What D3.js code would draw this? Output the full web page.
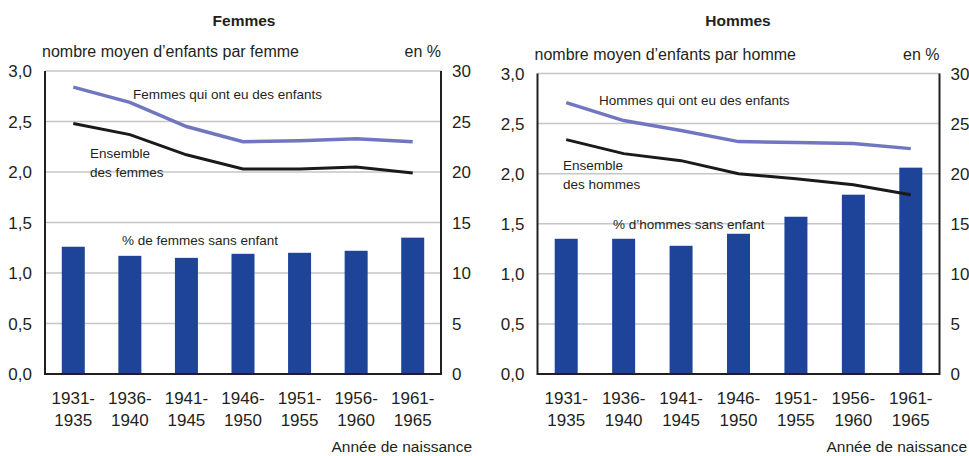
<!DOCTYPE html>
<html>
<head>
<meta charset="utf-8">
<script src="https://cdn.jsdelivr.net/npm/d3@7"></script>
<style>
body{margin:0;background:#fff;}
svg text{font-family:"Liberation Sans",Arial,sans-serif;fill:#231f20;}
</style>
</head>
<body>
<svg id="chart" width="969" height="456"></svg>
<script>
// categories (années de naissance)
var generations = ["1931-1935","1936-1940","1941-1945","1946-1950","1951-1955","1956-1960","1961-1965"];
// nombre moyen d'enfants
var femmesAvecEnfants = [2.84,2.69,2.45,2.30,2.31,2.33,2.30];
var femmesEnsemble    = [2.48,2.37,2.17,2.03,2.03,2.05,1.99];
var hommesAvecEnfants = [2.71,2.53,2.43,2.32,2.31,2.30,2.25];
var hommesEnsemble    = [2.34,2.20,2.13,2.00,1.95,1.89,1.79];
// % sans enfant
var femmesSansEnfant = [12.6,11.7,11.5,11.9,12.0,12.2,13.5];
var hommesSansEnfant = [13.5,13.5,12.8,14.0,15.7,17.9,20.6];
// graduations
var ticksGauche = [0,0.5,1,1.5,2,2.5,3];
var ticksDroite = [0,5,10,15,20,25,30];

var bleuBarre = "#1d4498",
	bleuLigne = "#7077c0",
	gris = "#c6c6c6";

var svg = d3.select("#chart");

function panneau(p){
	var g = svg.append("g");
	var x = d3.scaleBand().domain(generations).range([p.x0,p.x1]);
	var yG = d3.scaleLinear().domain([0,3]).range([p.yb,p.yt]);
	var yD = d3.scaleLinear().domain([0,30]).range([p.yb,p.yt]);
	var cx = function(d){ return x(d)+x.bandwidth()/2; };

	g.append("text").text(p.titre)
		.attr("x",p.xTitre).attr("y",26)
		.attr("text-anchor","middle")
		.attr("font-size",15.5).attr("font-weight","bold");
	g.append("text").text(p.sousTitre)
		.attr("x",p.x0-3).attr("y",p.yt-14).attr("font-size",16);
	g.append("text").text("en %")
		.attr("x",p.x1).attr("y",p.yt-14)
		.attr("text-anchor","end").attr("font-size",16);

	// quadrillage
	g.selectAll(".grille").data(ticksGauche.slice(1)).enter()
		.append("line")
		.attr("x1",p.x0).attr("x2",p.x1)
		.attr("y1",function(d){return yG(d);})
		.attr("y2",function(d){return yG(d);})
		.attr("stroke",gris).attr("stroke-width",1.5);

	g.selectAll(".tg").data(ticksGauche).enter()
		.append("text")
		.text(function(d){return d3.format(".1f")(d).replace(".",",");})
		.attr("x",p.x0-13).attr("y",function(d){return yG(d)+6;})
		.attr("text-anchor","end").attr("font-size",17);
	g.selectAll(".td").data(ticksDroite).enter()
		.append("text")
		.text(function(d){return d;})
		.attr("x",p.x1+11).attr("y",function(d){return yD(d)+6;})
		.attr("font-size",17);

	// barres
	g.selectAll(".barre").data(p.barres).enter()
		.append("rect")
		.attr("x",function(d,i){return cx(generations[i])-11.5;})
		.attr("width",23)
		.attr("y",function(d){return yD(d);})
		.attr("height",function(d){return p.yb-yD(d);})
		.attr("fill",bleuBarre);

	// étiquettes avec fond blanc
	p.etiquettes.forEach(function(e){
		var t = g.append("text").attr("font-size",13.5);
		e.lignes.forEach(function(l,k){
			t.append("tspan").attr("x",e.x).attr("y",e.y+k*18.5).text(l);
		});
		if(e.fond){
			var b = t.node().getBBox();
			g.insert("rect","text")
				.attr("x",b.x-10).attr("y",b.y-1)
				.attr("width",b.width+20).attr("height",b.height+2)
				.attr("fill","#fff");
		}
	});

	// axes
	g.append("path")
		.attr("d","M"+p.x0+","+p.yt+"V"+p.yb+"H"+p.x1+"V"+p.yt)
		.attr("fill","none").attr("stroke","#231f20").attr("stroke-width",2);

	var ligne = d3.line()
		.x(function(d,i){return cx(generations[i]);})
		.y(function(d){return yG(d);});
	g.append("path").datum(p.avec).attr("d",ligne)
		.attr("fill","none").attr("stroke",bleuLigne).attr("stroke-width",3.5);
	g.append("path").datum(p.ensemble).attr("d",ligne)
		.attr("fill","none").attr("stroke","#1a1a1a").attr("stroke-width",3);

	// années
	g.selectAll(".annee").data(generations).enter()
		.append("text")
		.attr("text-anchor","middle").attr("font-size",17)
		.each(function(d){
			var parts = d.split("-");
			d3.select(this).append("tspan").attr("x",cx(d)).attr("y",p.yb+30).text(parts[0]+"-");
			d3.select(this).append("tspan").attr("x",cx(d)).attr("y",p.yb+52).text(parts[1]);
		});
	g.append("text").text("Année de naissance")
		.attr("x",p.xAnnee).attr("y",p.yb+78)
		.attr("text-anchor","end").attr("font-size",15.5);
}

panneau({
	titre:"Femmes", xTitre:244,
	sousTitre:"nombre moyen d\u2019enfants par femme",
	x0:45, x1:441, yt:71, yb:374, xAnnee:472,
	barres:femmesSansEnfant, avec:femmesAvecEnfants, ensemble:femmesEnsemble,
	etiquettes:[
		{lignes:["Femmes qui ont eu des enfants"], x:133, y:99},
		{lignes:["Ensemble","des femmes"], x:90, y:158, fond:true},
		{lignes:["% de femmes sans enfant"], x:122, y:245, fond:true}
	]
});
panneau({
	titre:"Hommes", xTitre:738,
	sousTitre:"nombre moyen d\u2019enfants par homme",
	x0:537.5, x1:939.5, yt:73.5, yb:374, xAnnee:967,
	barres:hommesSansEnfant, avec:hommesAvecEnfants, ensemble:hommesEnsemble,
	etiquettes:[
		{lignes:["Hommes qui ont eu des enfants"], x:599, y:105},
		{lignes:["Ensemble","des hommes"], x:563, y:170, fond:true},
		{lignes:["% d\u2019hommes sans enfant"], x:613, y:229, fond:true}
	]
});
</script>
</body>
</html>
